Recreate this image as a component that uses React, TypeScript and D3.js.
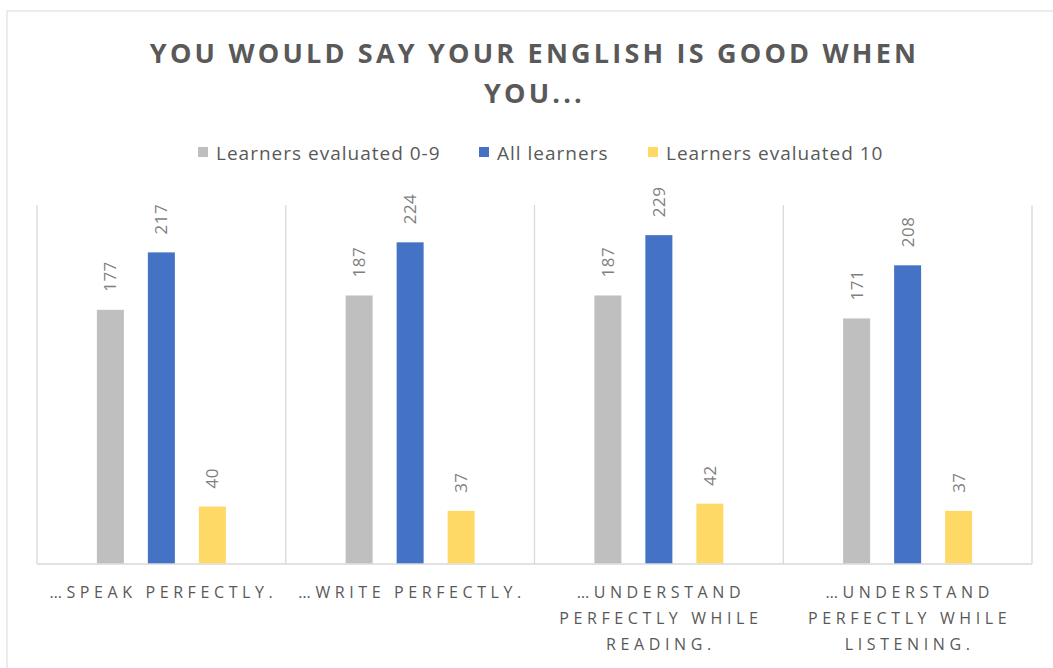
import React from "react";
import * as d3 from "d3";

const categories: string[][] = [
  ["…SPEAK PERFECTLY."],
  ["…WRITE PERFECTLY."],
  ["…UNDERSTAND", "PERFECTLY WHILE", "READING."],
  ["…UNDERSTAND", "PERFECTLY WHILE", "LISTENING."],
];
const seriesNames = ["Learners evaluated 0-9", "All learners", "Learners evaluated 10"];
const evaluated09 = [177, 187, 187, 171];
const allLearners = [217, 224, 229, 208];
const evaluated10 = [40, 37, 42, 37];
const seriesValues = [evaluated09, allLearners, evaluated10];
const colors = ["#BFBFBF", "#4472C4", "#FFD966"];
const titleLines = ["YOU WOULD SAY YOUR ENGLISH IS GOOD WHEN", "YOU..."];

const W = 1053;
const H = 668;
const plot = { left: 37, right: 1032, top: 205, bottom: 564 };
const FONT = "'Open Sans', sans-serif";

export default function App() {
  const x = d3.scaleBand<number>().domain(d3.range(categories.length)).range([plot.left, plot.right]);
  const y = d3.scaleLinear().domain([0, 250]).range([plot.bottom, plot.top]);
  const bw = 27;
  const step = 51;
  const boundaries = d3.range(categories.length + 1).map((i) => plot.left + i * x.bandwidth());
  const legendX = [198, 479, 648];

  return (
    <svg width={W} height={H} style={{ position: "absolute", left: 0, top: 0 }}>
      <rect x={0} y={0} width={W} height={H} fill="#fff" />
      <rect x={7} y={11} width={W + 20} height={H + 20} fill="#fff" stroke="#D9D9D9" strokeWidth={1} />
      {titleLines.map((t, i) => (
        <text key={i} x={534.5} y={63 + i * 40} textAnchor="middle" fontFamily={FONT} fontWeight={700}
          fontSize={27} letterSpacing={3.2} fill="#595959">{t}</text>
      ))}
      {seriesNames.map((s, i) => (
        <g key={s}>
          <rect x={legendX[i]} y={147} width={10} height={10} fill={colors[i]} />
          <text x={legendX[i] + 18} y={160} fontFamily={FONT} fontSize={19} letterSpacing={1}
            fill="#595959">{s}</text>
        </g>
      ))}
      {boundaries.map((bx, i) => (
        <line key={i} x1={bx} x2={bx} y1={plot.top} y2={plot.bottom} stroke="#D9D9D9" strokeWidth={1.3} />
      ))}
      <line x1={plot.left} x2={plot.right} y1={plot.bottom} y2={plot.bottom} stroke="#D9D9D9" strokeWidth={1.3} />
      {categories.map((_, ci) => {
        const cx = (x(ci) as number) + x.bandwidth() / 2;
        return seriesValues.map((vals, si) => {
          const bx = cx + (si - 1) * step - bw / 2;
          const v = vals[ci];
          const top = y(v);
          return (
            <g key={`${ci}-${si}`}>
              <rect x={bx} y={top} width={bw} height={plot.bottom - top - 0.7} fill={colors[si]} />
              <text transform={`translate(${bx + bw / 2 + 6},${top - 18}) rotate(-90)`} fontFamily={FONT}
                fontSize={17} letterSpacing={0.5} fill="#7F7F7F">{v}</text>
            </g>
          );
        });
      })}
      {categories.map((lines, ci) => {
        const cx = (x(ci) as number) + x.bandwidth() / 2;
        return lines.map((ln, li) => (
          <text key={`${ci}-${li}`} x={cx + 2} y={598 + li * 26} textAnchor="middle" fontFamily={FONT}
            fontSize={16} letterSpacing={4.6} fill="#595959">{ln}</text>
        ));
      })}
    </svg>
  );
}
